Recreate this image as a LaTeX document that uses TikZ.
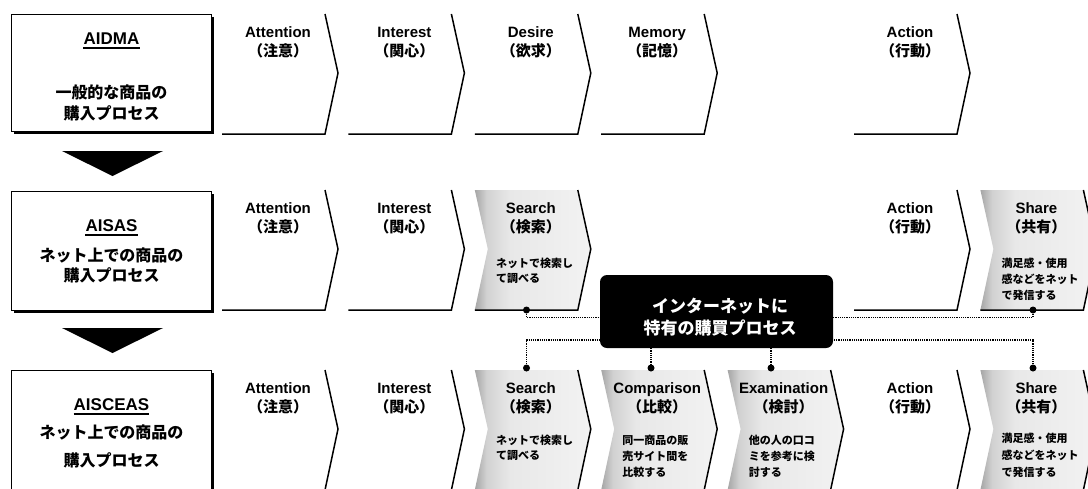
\documentclass[tikz,border=0pt]{standalone}
\usepackage{fontspec}
\setmainfont{Liberation Sans}
\newfontfamily\jp{Noto Sans CJK JP}
\usetikzlibrary{calc,shadows}
\pgfdeclarehorizontalshading{chevshade}{100bp}{color(0bp)=(black!35); color(25bp)=(black!35); color(30bp)=(black!18); color(40bp)=(black!9); color(75bp)=(black!5); color(100bp)=(black!5)}
\tikzset{
  chl/.style={line width=1.5pt, line join=miter},
  ttl/.style={font=\fontsize{15}{15}\selectfont\bfseries, anchor=base, inner sep=0pt},
  jpt/.style={font=\jp\fontsize{15}{15}\selectfont\bfseries, anchor=base, inner sep=0pt},
  sml/.style={font=\jp\fontsize{11}{11}\selectfont\bfseries, anchor=base west, inner sep=0pt},
  btl/.style={font=\fontsize{17}{17}\selectfont\bfseries, anchor=base, inner sep=0pt},
  bjp/.style={font=\jp\fontsize{16}{16}\selectfont\bfseries, anchor=base, inner sep=0pt},
  uline/.style={line width=2pt},
  lbox/.style={draw=black, line width=0.9pt, fill=white, minimum width=200pt, inner sep=0pt,
    drop shadow={shadow xshift=3pt, shadow yshift=-3pt, fill=black, opacity=1}},
  ibox/.style={fill=black, rounded corners=7pt, minimum width=233pt, minimum height=73pt, inner sep=0pt},
  itxt/.style={font=\jp\fontsize{17}{17}\selectfont\bfseries, text=white, anchor=base, inner sep=0pt},
  dotl/.style={line width=1.4pt, dash pattern=on 1.2pt off 1pt},
  dotn/.style={circle, fill=black, minimum size=7pt, inner sep=0pt},
  arrowtri/.style={fill=black}
}
\newcommand\chev[6]{%
  \pgfmathsetmacro\xl{222+126.4*(#2-1)}%
  \ifnum#4=1
    \shade[shading=chevshade] (\xl,#3) -- ++(103,0) -- ++(13,59) -- ++(-13,61) -- ++(-103,0) -- ++(13,-61) -- cycle;
  \fi
  \draw[chl] (\xl,#3+120) -- ++(103,0) -- ++(13,-61) -- ++(-13,-59);
  \node[ttl] (#1t) at (\xl+56,#3+23.5) {#5};
  \node[jpt] (#1j) at (\xl+56,#3+42) {#6};
}
\newcommand\smtxt[4]{%
  \pgfmathsetmacro\xl{222+126.4*(#2-1)+21}%
  \node[sml] (#1) at (\xl,#3) {#4};
}
\begin{document}
\begin{tikzpicture}[x=1pt,y=-1pt]
\useasboundingbox (0,0) rectangle (1088,488);
\clip (0,0) rectangle (1088,488);

% left boxes
\node[lbox, minimum height=117pt] (b1) at (111,72.5) {};
\node[lbox, minimum height=119pt] (b2) at (111,250.5) {};
\node[lbox, minimum height=230pt] (b3) at (111,485) {};

\node[btl] (b1t) at (111.5,44) {AIDMA};
\draw[uline] ([yshift=-3.5pt]b1t.base west) -- ([yshift=-3.5pt]b1t.base east);
\node[bjp] (b1a) at (111.5,98.5) {一般的な商品の};
\node[bjp] (b1b) at (111.5,119.5) {購入プロセス};

\node[btl] (b2t) at (111.5,231) {AISAS};
\draw[uline] ([yshift=-3.5pt]b2t.base west) -- ([yshift=-3.5pt]b2t.base east);
\node[bjp] (b2a) at (111.5,261) {ネット上での商品の};
\node[bjp] (b2b) at (111.5,281.5) {購入プロセス};

\node[btl] (b3t) at (111.5,410.5) {AISCEAS};
\draw[uline] ([yshift=-3.5pt]b3t.base west) -- ([yshift=-3.5pt]b3t.base east);
\node[bjp] (b3a) at (111.5,438) {ネット上での商品の};
\node[bjp] (b3b) at (111.5,466) {購入プロセス};

% down arrows
\fill[arrowtri] (62,151) -- (163,151) -- (112.5,176) -- cycle;
\fill[arrowtri] (62,328) -- (163,328) -- (112.5,353) -- cycle;

% row 1
\chev{ra1}{1}{14}{0}{Attention}{（注意）}
\chev{ra2}{2}{14}{0}{Interest}{（関心）}
\chev{ra3}{3}{14}{0}{Desire}{（欲求）}
\chev{ra4}{4}{14}{0}{Memory}{（記憶）}
\chev{ra6}{6}{14}{0}{Action}{（行動）}

% row 2
\chev{rb1}{1}{190}{0}{Attention}{（注意）}
\chev{rb2}{2}{190}{0}{Interest}{（関心）}
\chev{rb3}{3}{190}{1}{Search}{（検索）}
\chev{rb6}{6}{190}{0}{Action}{（行動）}
\chev{rb7}{7}{190}{1}{Share}{（共有）}
\smtxt{sb3a}{3}{267}{ネットで検索し}
\smtxt{sb3b}{3}{282}{て調べる}
\smtxt{sb7a}{7}{267}{満足感・使用}
\smtxt{sb7b}{7}{283}{感などをネット}
\smtxt{sb7c}{7}{299}{で発信する}

% row 3
\chev{rc1}{1}{370}{0}{Attention}{（注意）}
\chev{rc2}{2}{370}{0}{Interest}{（関心）}
\chev{rc3}{3}{370}{1}{Search}{（検索）}
\chev{rc4}{4}{370}{1}{Comparison}{（比較）}
\chev{rc5}{5}{370}{1}{Examination}{（検討）}
\chev{rc6}{6}{370}{0}{Action}{（行動）}
\chev{rc7}{7}{370}{1}{Share}{（共有）}
\smtxt{sc3a}{3}{444}{ネットで検索し}
\smtxt{sc3b}{3}{459}{て調べる}
\smtxt{sc4a}{4}{444}{同一商品の販}
\smtxt{sc4b}{4}{460}{売サイト間を}
\smtxt{sc4c}{4}{476}{比較する}
\smtxt{sc5a}{5}{444}{他の人の口コ}
\smtxt{sc5b}{5}{460}{ミを参考に検}
\smtxt{sc5c}{5}{476}{討する}
\smtxt{sc7a}{7}{442}{満足感・使用}
\smtxt{sc7b}{7}{459}{感などをネット}
\smtxt{sc7c}{7}{476}{で発信する}

% internet box
\node[ibox] (ibox) at (716.5,311.5) {};
\node[itxt] (it1) at (720,312) {インターネットに};
\node[itxt] (it2) at (720,334) {特有の購買プロセス};

% dots
\node[dotn] (dS2) at (526.5,310) {};
\node[dotn] (dH2) at (1033,310) {};
\node[dotn] (dS3) at (526.5,368) {};
\node[dotn] (dC3) at (651,368) {};
\node[dotn] (dE3) at (771,368) {};
\node[dotn] (dH3) at (1033,368) {};

% connectors
\draw[dotl] (dS2) |- ([yshift=-6pt]ibox.west);
\draw[dotl] (dH2) |- ([yshift=-6pt]ibox.east);
\draw[dotl] (dS3) |- ([yshift=-28.5pt]ibox.west);
\draw[dotl] (dH3) |- ([yshift=-28.5pt]ibox.east);
\draw[dotl] (ibox.south -| dC3) -- (dC3);
\draw[dotl] (ibox.south -| dE3) -- (dE3);
\end{tikzpicture}
\end{document}
